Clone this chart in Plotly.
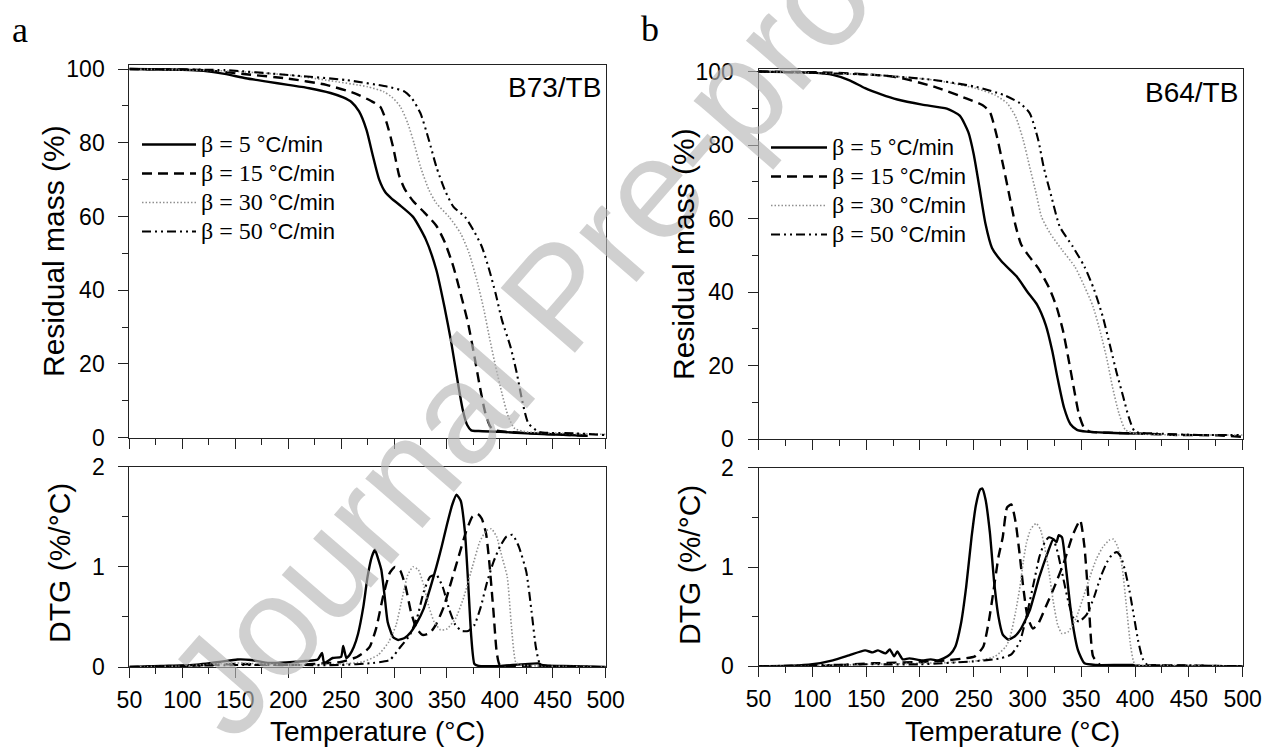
import plotly.graph_objects as go

W, H = 1266, 749

# ---------------- data: panel a (B73/TB) TGA ----------------
a_T5 = [50, 100, 120, 140, 160, 180, 200, 220, 240, 252, 260, 267, 274, 280, 286, 292, 298, 305, 318, 330, 340, 348, 354, 360, 365, 369, 373, 380, 400, 430, 460, 483]
a_m5 = [100, 99.8, 99.5, 98.7, 97.5, 96.6, 95.7, 94.8, 93.5, 92.3, 91.0, 88.5, 83.5, 76.5, 70.0, 66.5, 64.8, 63.2, 59.9, 53.8, 45.5, 35.0, 26.0, 15.5, 7.5, 3.5, 2.0, 1.8, 1.6, 1.1, 0.8, 0.5]
a_T15 = [50, 120, 160, 200, 236, 263, 278, 287, 293, 299, 305, 310, 318, 329, 340, 348, 356, 363, 370, 376, 381, 386, 391, 396, 405, 430, 460, 483]
a_m15 = [100, 99.7, 98.6, 97.4, 95.7, 93.4, 91.4, 89.8, 85.5, 79.0, 71.0, 67.5, 64.2, 61.0, 57.5, 53.0, 46.5, 39.0, 31.0, 22.0, 14.0, 7.0, 3.0, 2.0, 1.6, 1.2, 0.8, 0.5]
a_T30 = [50, 140, 200, 236, 275, 290, 298, 306, 313, 319, 325, 333, 340, 352, 363, 371, 379, 385, 390, 396, 402, 408, 414, 425, 460, 500]
a_m30 = [100, 99.5, 98.4, 97.0, 95.2, 93.9, 92.4, 89.8, 85.3, 79.8, 73.5, 67.2, 63.6, 59.9, 55.4, 50.0, 41.9, 34.6, 27.4, 19.3, 12.0, 5.7, 2.5, 1.6, 1.2, 0.9]
a_T50 = [50, 140, 200, 255, 294, 310, 317, 325, 333, 340, 348, 356, 367, 375, 383, 390, 396, 402, 410, 416, 421, 427, 437, 470, 500]
a_m50 = [100, 99.7, 98.4, 97.0, 95.2, 93.9, 92.0, 88.0, 80.7, 73.5, 67.2, 62.7, 59.9, 56.3, 51.8, 45.5, 39.1, 31.9, 24.7, 17.5, 10.2, 3.9, 1.6, 1.2, 0.7]

# ---------------- data: panel a DTG ----------------
a_dT5 = [50, 80, 110, 135, 152, 165, 182, 198, 217, 228, 232, 234, 242, 250, 252, 255, 258, 262, 266, 271, 275, 279, 282, 285, 288, 291, 294, 299, 304, 310, 316, 322, 328, 334, 340, 345, 350, 355, 359, 363, 367, 370, 373, 376, 380, 400, 437, 440, 460, 500]
a_d5 = [0, 0.01, 0.02, 0.05, 0.075, 0.07, 0.04, 0.045, 0.06, 0.075, 0.14, 0.04, 0.09, 0.10, 0.21, 0.09, 0.12, 0.2, 0.33, 0.6, 0.9, 1.1, 1.17, 1.08, 0.97, 0.72, 0.45, 0.30, 0.27, 0.29, 0.35, 0.45, 0.58, 0.78, 1.0, 1.2, 1.42, 1.62, 1.72, 1.66, 1.35, 0.85, 0.3, 0.03, 0.01, 0.01, 0.035, 0.015, 0.01, 0.0]
a_dT15 = [50, 100, 150, 200, 250, 265, 271, 277, 283, 290, 296, 301, 306, 311, 316, 321, 327, 334, 340, 347, 354, 361, 368, 374, 379, 383, 387, 390, 394, 397, 400, 430, 483]
a_d15 = [0, 0.01, 0.03, 0.02, 0.05, 0.10, 0.14, 0.2, 0.38, 0.72, 0.94, 1.0, 0.96, 0.8, 0.55, 0.39, 0.32, 0.34, 0.43, 0.6, 0.85, 1.1, 1.35, 1.5, 1.53, 1.48, 1.33, 1.05, 0.55, 0.15, 0.02, 0.01, 0.0]
a_dT30 = [50, 100, 150, 200, 250, 270, 285, 295, 302, 308, 313, 318, 323, 328, 333, 338, 344, 350, 358, 366, 374, 381, 387, 392, 397, 402, 407, 411, 415, 420, 440, 500]
a_d30 = [0, 0.01, 0.04, 0.02, 0.03, 0.05, 0.12, 0.25, 0.42, 0.7, 0.92, 1.0, 0.97, 0.82, 0.6, 0.45, 0.37, 0.38, 0.48, 0.7, 1.0, 1.25, 1.36, 1.38, 1.3, 1.1, 0.9, 0.4, 0.05, 0.02, 0.01, 0.0]
a_dT50 = [50, 100, 150, 200, 250, 280, 296, 306, 315, 322, 328, 334, 340, 346, 352, 358, 364, 370, 376, 382, 388, 394, 400, 406, 412, 418, 425, 430, 434, 438, 450, 500]
a_d50 = [0, 0.01, 0.02, 0.02, 0.02, 0.04, 0.07, 0.2, 0.32, 0.5, 0.75, 0.9, 0.92, 0.8, 0.58, 0.42, 0.36, 0.36, 0.42, 0.6, 0.85, 1.05, 1.2, 1.3, 1.32, 1.2, 0.95, 0.55, 0.2, 0.03, 0.01, 0.0]

# ---------------- data: panel b (B64/TB) TGA ----------------
b_T5 = [50, 100, 119, 134, 149, 164, 179, 202, 225, 237, 245, 250, 255, 261, 267, 276, 290, 300, 309, 317, 323, 328, 334, 340, 346, 355, 375, 400]
b_m5 = [100, 99.7, 99.1, 97.7, 95.5, 93.8, 92.4, 91.0, 89.9, 88.0, 83.5, 77.5, 69.0, 58.5, 52.0, 48.3, 44.2, 40.0, 36.5, 31.0, 24.0, 16.5, 8.5, 4.0, 2.5, 2.0, 1.7, 1.5]
b_T15 = [50, 119, 176, 213, 243, 258, 265, 271, 277, 283, 289, 294, 300, 310, 320, 327, 333, 338, 343, 348, 353, 358, 375, 402, 440, 477, 500]
b_m15 = [100, 99.7, 98.6, 95.9, 92.7, 90.9, 89.0, 83.0, 75.0, 66.5, 58.0, 53.0, 50.3, 46.5, 41.2, 36.0, 29.5, 22.0, 14.0, 6.5, 2.8, 2.0, 1.7, 1.5, 1.1, 1.0, 0.6]
b_T30 = [50, 157, 213, 251, 270, 281, 289, 296, 302, 308, 313, 321, 332, 344, 353, 361, 368, 374, 379, 385, 391, 400, 440, 500]
b_m30 = [100, 99.1, 97.7, 95.5, 93.6, 91.4, 87.7, 81.4, 74.1, 66.9, 60.5, 56.0, 51.5, 46.9, 41.5, 36.0, 28.8, 21.5, 14.2, 7.0, 2.5, 1.5, 1.1, 1.1]
b_T50 = [50, 157, 213, 251, 278, 293, 302, 310, 315, 323, 330, 342, 353, 362, 370, 377, 383, 389, 394, 400, 421, 459, 500]
b_m50 = [100, 99.1, 97.7, 95.9, 93.6, 91.4, 88.7, 81.4, 74.1, 65.1, 57.8, 52.4, 46.9, 40.6, 33.3, 25.1, 17.9, 11.5, 6.1, 2.0, 1.5, 1.1, 1.1]

# ---------------- data: panel b DTG ----------------
b_dT5 = [50, 81, 100, 119, 134, 149, 156, 161, 168, 172, 176, 179, 184, 190, 202, 210, 217, 222, 228, 233, 238, 243, 248, 252, 256, 258, 261, 265, 269, 273, 277, 282, 288, 294, 302, 311, 319, 324, 327, 329, 332, 336, 341, 347, 353, 364, 398, 400, 500]
b_d5 = [0, 0.005, 0.02, 0.06, 0.11, 0.16, 0.14, 0.16, 0.13, 0.17, 0.10, 0.15, 0.07, 0.08, 0.06, 0.07, 0.06, 0.08, 0.12, 0.2, 0.42, 0.8, 1.3, 1.62, 1.78, 1.79, 1.68, 1.35, 0.85, 0.5, 0.32, 0.27, 0.3, 0.38, 0.56, 0.9, 1.15, 1.28, 1.25, 1.32, 1.3, 0.97, 0.5, 0.16, 0.03, 0.013, 0.013, 0.005, 0.0]
b_dT15 = [50, 100, 157, 213, 251, 259, 264, 268, 273, 277, 281, 285, 289, 293, 296, 300, 305, 310, 317, 325, 334, 342, 349, 353, 357, 361, 368, 420, 500]
b_d15 = [0, 0.0, 0.03, 0.05, 0.1, 0.2, 0.45, 0.73, 1.1, 1.3, 1.6, 1.63, 1.45, 1.1, 0.8, 0.5, 0.38, 0.43, 0.6, 0.8, 1.05, 1.32, 1.47, 1.2, 0.63, 0.1, 0.01, 0.01, 0.0]
b_dT30 = [50, 100, 150, 200, 250, 270, 280, 284, 289, 293, 296, 299, 303, 308, 312, 316, 320, 324, 328, 332, 338, 345, 352, 358, 364, 370, 376, 380, 384, 388, 392, 396, 400, 440, 500]
b_d30 = [0, 0.0, 0.02, 0.03, 0.05, 0.1, 0.2, 0.3, 0.55, 0.8, 1.05, 1.24, 1.38, 1.44, 1.38, 1.2, 0.95, 0.65, 0.42, 0.33, 0.35, 0.48, 0.7, 0.9, 1.08, 1.2, 1.27, 1.28, 1.2, 1.0, 0.6, 0.2, 0.02, 0.01, 0.0]
b_dT50 = [50, 100, 150, 200, 250, 275, 285, 293, 300, 306, 311, 316, 320, 324, 328, 333, 338, 343, 348, 355, 362, 368, 374, 379, 383, 387, 391, 395, 399, 403, 407, 411, 450, 500]
b_d50 = [0, 0.01, 0.02, 0.02, 0.05, 0.08, 0.12, 0.25, 0.55, 0.85, 1.1, 1.25, 1.3, 1.28, 1.15, 0.9, 0.65, 0.48, 0.45, 0.52, 0.7, 0.9, 1.05, 1.13, 1.15, 1.1, 0.95, 0.75, 0.5, 0.25, 0.08, 0.02, 0.01, 0.0]

rate_labels = ["5", "15", "30", "50"]
panel_labels = ["B73/TB", "B64/TB"]
x_ticks = [50, 100, 150, 200, 250, 300, 350, 400, 450, 500]

SANS = "Liberation Sans, Arial, sans-serif"
SERIF = "Liberation Serif, Times New Roman, serif"

styles = [
    dict(color="black", width=2.4, dash="solid"),
    dict(color="black", width=2.4, dash="10px,6px"),
    dict(color="#8f8f8f", width=1.6, dash="1.5px,2px"),
    dict(color="black", width=2.1, dash="9px,4px,2px,4px,2px,4px"),
]


def legend_name(r):
    return (f"<span style='font-family:Liberation Serif;font-size:24px'>β = {r} </span>"
            f"<span style='font-size:22px'>°C/min</span>")


fig = go.Figure()

panels = [
    dict(tga=[(a_T5, a_m5), (a_T15, a_m15), (a_T30, a_m30), (a_T50, a_m50)],
         dtg=[(a_dT5, a_d5), (a_dT15, a_d15), (a_dT30, a_d30), (a_dT50, a_d50)],
         xt="x", yt="y", xb="x2", yb="y2", leg="legend"),
    dict(tga=[(b_T5, b_m5), (b_T15, b_m15), (b_T30, b_m30), (b_T50, b_m50)],
         dtg=[(b_dT5, b_d5), (b_dT15, b_d15), (b_dT30, b_d30), (b_dT50, b_d50)],
         xt="x3", yt="y3", xb="x4", yb="y4", leg="legend2"),
]

for p in panels:
    for i, (T, m) in enumerate(p["tga"]):
        fig.add_trace(go.Scatter(x=T, y=m, mode="lines", xaxis=p["xt"], yaxis=p["yt"],
                                 line=dict(shape="spline", smoothing=0.6, **styles[i]),
                                 name=legend_name(rate_labels[i]), legend=p["leg"],
                                 showlegend=True))
    for i, (T, d) in enumerate(p["dtg"]):
        fig.add_trace(go.Scatter(x=T, y=d, mode="lines", xaxis=p["xb"], yaxis=p["yb"],
                                 line=dict(shape="spline", smoothing=0.5, **styles[i]),
                                 showlegend=False))


def px_x(v):
    return v / W


def px_y(v):
    return 1 - v / H


axis_common = dict(showline=True, linecolor="#222", linewidth=1.2, mirror=True,
                   ticks="outside", ticklen=10, tickwidth=1.2, tickcolor="#222",
                   showgrid=False, zeroline=False,
                   tickfont=dict(family=SANS, size=23, color="black"))

xdom_a = [px_x(129.4), px_x(605.7)]
xdom_b = [px_x(758.6), px_x(1242.6)]

xcommon = dict(range=[50, 500], tickmode="array", tickvals=x_ticks,
               minor=dict(ticks="outside", ticklen=6, dtick=25, tick0=50, tickcolor="#222", tickwidth=1.2),
               **axis_common)


def yminor(dt):
    return dict(ticks="outside", ticklen=6, dtick=dt, tickcolor="#222", tickwidth=1.2)


fig.update_layout(
    xaxis=dict(domain=xdom_a, anchor="y", showticklabels=False, **xcommon),
    xaxis2=dict(domain=xdom_a, anchor="y2", ticklabelstandoff=2, **xcommon),
    xaxis3=dict(domain=xdom_b, anchor="y3", showticklabels=False, **xcommon),
    xaxis4=dict(domain=xdom_b, anchor="y4", ticklabelstandoff=2, **xcommon),
    yaxis=dict(domain=[px_y(437.7), px_y(65)], anchor="x", range=[0, 101.1], dtick=20,
               minor=yminor(10), ticklabelstandoff=9, **axis_common),
    yaxis2=dict(domain=[px_y(667), px_y(466.7)], anchor="x2", range=[0, 2], dtick=1,
                minor=yminor(0.5), ticklabelstandoff=9, **axis_common),
    yaxis3=dict(domain=[px_y(439), px_y(69)], anchor="x3", range=[0, 100.7], dtick=20,
                minor=yminor(10), ticklabelstandoff=9, **axis_common),
    yaxis4=dict(domain=[px_y(666.3), px_y(467.7)], anchor="x4", range=[0, 2], dtick=1,
                minor=yminor(0.5), ticklabelstandoff=9, **axis_common),
)

legend_common = dict(xanchor="left", yanchor="top", bgcolor="rgba(0,0,0,0)", borderwidth=0,
                     font=dict(family=SANS, size=20, color="black"), tracegroupgap=0)
fig.update_layout(
    legend=dict(x=px_x(137), y=px_y(125), itemwidth=54, **legend_common),
    legend2=dict(x=px_x(766), y=px_y(128), itemwidth=56, **legend_common),
)

ann = []
# watermark
ann.append(dict(text="Journal Pre-proof", x=px_x(558), y=px_y(296), xref="paper", yref="paper",
                showarrow=False, textangle=-49, xanchor="center", yanchor="middle",
                font=dict(family=SANS, size=143, color="rgba(183,183,183,0.65)")))
# panel letters
ann.append(dict(text="a", x=px_x(10), y=px_y(30), xref="paper", yref="paper", showarrow=False,
                xanchor="left", yanchor="middle", font=dict(family=SERIF, size=36, color="black")))
ann.append(dict(text="b", x=px_x(639), y=px_y(29), xref="paper", yref="paper", showarrow=False,
                xanchor="left", yanchor="middle", font=dict(family=SERIF, size=36, color="black")))
# sample labels
ann.append(dict(text=panel_labels[0], x=px_x(603), y=px_y(88), xref="paper", yref="paper",
                showarrow=False, xanchor="right", yanchor="middle",
                font=dict(family=SANS, size=28, color="black")))
ann.append(dict(text=panel_labels[1], x=px_x(1240), y=px_y(92), xref="paper", yref="paper",
                showarrow=False, xanchor="right", yanchor="middle",
                font=dict(family=SANS, size=28, color="black")))
# axis titles
for xc, yc, t, ang, sz in [
    (53, 251, "Residual mass (%)", -90, 30),
    (59, 563, "DTG (%/°C)", -90, 30),
    (378, 731, "Temperature (°C)", 0, 28),
    (683, 254, "Residual mass (%)", -90, 30),
    (689, 565, "DTG (%/°C)", -90, 30),
    (1012, 731, "Temperature (°C)", 0, 28),
]:
    ann.append(dict(text=t, x=px_x(xc), y=px_y(yc), xref="paper", yref="paper", showarrow=False,
                    textangle=ang, xanchor="center", yanchor="middle",
                    font=dict(family=SANS, size=sz, color="black")))

fig.update_layout(
    annotations=ann,
    width=W, height=H,
    margin=dict(l=0, r=0, t=0, b=0, autoexpand=False),
    paper_bgcolor="white", plot_bgcolor="white",
    font=dict(family=SANS, color="black"),
)

fig.write_html("out.html")
